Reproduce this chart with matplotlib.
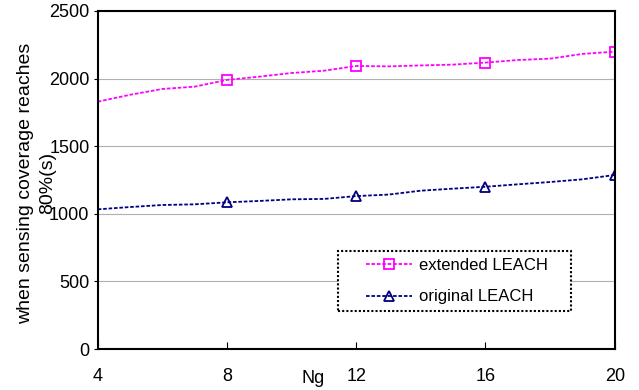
import matplotlib
matplotlib.use("Agg")
import matplotlib.pyplot as plt
from matplotlib.patches import Rectangle

plt.rcParams['font.family'] = ['Liberation Sans', 'DejaVu Sans']

ng = [4, 5, 6, 7, 8, 9, 10, 11, 12, 13, 14, 15, 16, 17, 18, 19, 20]
extended = [1829, 1880, 1923, 1940, 1990, 2014, 2041, 2058, 2093, 2090, 2097, 2103, 2118, 2137, 2147, 2182, 2199]
original = [1033, 1050, 1065, 1070, 1085, 1095, 1107, 1110, 1131, 1142, 1171, 1186, 1200, 1218, 1235, 1255, 1287]
marker_idx = [4, 8, 12, 16]

fig = plt.figure(figsize=(6.39, 3.9), dpi=100)
ax = fig.add_axes([0.153, 0.105, 0.809, 0.867])

ax.plot(ng, extended, color='#ff00ff', linestyle=(0, (2, 1)), linewidth=1.3,
        marker='s', markersize=6.5, markerfacecolor='none', markeredgewidth=1.3,
        markevery=marker_idx, label='extended LEACH')
ax.plot(ng, original, color='#000080', linestyle=(0, (2, 1)), linewidth=1.3,
        marker='^', markersize=7, markerfacecolor='none', markeredgewidth=1.3,
        markevery=marker_idx, label='original LEACH')

ax.set_xlim(4, 20)
ax.set_ylim(0, 2500)
ax.set_xticks([4, 8, 12, 16, 20])
ax.set_yticks([0, 500, 1000, 1500, 2000, 2500])
ax.yaxis.grid(True, color='#b0b0b0', linewidth=0.8)
ax.set_axisbelow(True)

ax.tick_params(axis='x', direction='in', length=5, labelsize=13, pad=14)
ax.tick_params(axis='y', direction='out', length=3, labelsize=13, pad=3)

ax.spines['left'].set_linewidth(1.5)
ax.spines['bottom'].set_linewidth(1.5)
for s in ['top', 'right']:
    ax.spines[s].set_linestyle((0, (1, 1)))
    ax.spines[s].set_linewidth(1.5)

ax.set_xlabel('Ng', fontsize=13, va='center')
ax.xaxis.set_label_coords(0.416, -0.086)
ax.set_ylabel('when sensing coverage reaches\n80%(s)', fontsize=14,
              va='center', linespacing=1.4)
ax.yaxis.set_label_coords(-0.119, 0.49)

# legend box drawn separately so the entries sit indented like the original
box = Rectangle((0.464, 0.112), 0.451, 0.178, transform=ax.transAxes,
                facecolor='white', edgecolor='black', linewidth=1.5,
                linestyle=(0, (1, 1)), zorder=4)
ax.add_patch(box)
leg = ax.legend(loc='upper left', bbox_to_anchor=(0.518, 0.27), frameon=False,
                fontsize=12, handlelength=2.8, handletextpad=0.4,
                labelspacing=1.0, borderpad=0, borderaxespad=0)
leg.set_zorder(5)

plt.savefig('out.png', dpi=100)
